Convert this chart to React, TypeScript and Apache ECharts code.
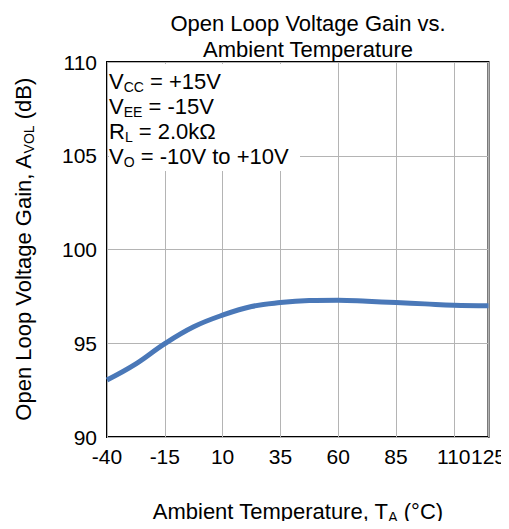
import React, { useEffect, useRef } from "react";
import * as echarts from "echarts";

const temperatures = [-40, -27.5, -15, -2.5, 10, 22.5, 35, 47.5, 60, 72.5, 85, 97.5, 110, 125];
const gainDb = [93.04, 93.9, 94.98, 95.88, 96.5, 96.96, 97.17, 97.28, 97.3, 97.24, 97.17, 97.1, 97.03, 97.0];
const xTicks = [-40, -15, 10, 35, 60, 85, 110, 125];
const yTicks = [90, 95, 100, 105, 110];
const titleLines = ["Open Loop Voltage Gain vs.", "Ambient Temperature"];
const conditions = [
  "V{sub|CC} = +15V",
  "V{sub|EE} = -15V",
  "R{sub|L} = 2.0kΩ",
  "V{sub|O} = -10V to +10V",
];

const FONT = "Liberation Sans, Arial, sans-serif";

export default function App() {
  const ref = useRef<HTMLDivElement>(null);
  useEffect(() => {
    if (!ref.current) return;
    const chart = echarts.init(ref.current, null, { renderer: "svg" });
    const subStyle = {
      fontSize: 14,
      fontFamily: FONT,
      color: "#000",
      verticalAlign: "bottom" as const,
      lineHeight: 26,
    };
    chart.setOption({
      animation: false,
      backgroundColor: "#fff",
      title: {
        text: titleLines.join("\n"),
        left: 303,
        top: 5,
        textAlign: "center",
        textStyle: {
          fontFamily: FONT,
          fontSize: 22,
          fontWeight: "normal",
          color: "#000",
          lineHeight: 26,
        },
      },
      grid: {
        left: 107,
        right: 20,
        top: 62,
        bottom: 87,
        show: true,
        borderColor: "#000",
        borderWidth: 2,
        backgroundColor: "transparent",
      },
      xAxis: {
        type: "value",
        min: -40,
        max: 125,
        interval: 25,
        name: "Ambient Temperature, T{sub|A} (°C)",
        nameLocation: "middle",
        nameGap: 61,
        nameTextStyle: {
          fontFamily: FONT,
          fontSize: 22,
          color: "#000",
          lineHeight: 26,
          rich: { sub: { ...subStyle } },
        },
        axisLine: { show: false },
        axisTick: { show: false },
        splitLine: { show: true, lineStyle: { color: "#b4b4b4", width: 1 } },
        axisLabel: {
          fontFamily: FONT,
          fontSize: 21,
          color: "#000",
          margin: 9,
          showMaxLabel: true,
          showMinLabel: true,
          hideOverlap: false,
          formatter: (v: number) => (xTicks.includes(v) ? String(v) : ""),
        },
      },
      yAxis: {
        type: "value",
        min: yTicks[0],
        max: yTicks[yTicks.length - 1],
        interval: 5,
        name: "Open Loop Voltage Gain, A{sub|VOL} (dB)",
        nameLocation: "middle",
        nameGap: 71,
        nameTextStyle: {
          fontFamily: FONT,
          fontSize: 22,
          color: "#000",
          lineHeight: 26,
          rich: { sub: { ...subStyle } },
        },
        axisLine: { show: false },
        axisTick: { show: false },
        splitLine: { show: true, lineStyle: { color: "#b4b4b4", width: 1 } },
        axisLabel: {
          fontFamily: FONT,
          fontSize: 21,
          color: "#000",
          margin: 10,
        },
      },
      series: [
        {
          type: "line",
          data: temperatures.map((t, i) => [t, gainDb[i]]),
          smooth: 0.4,
          showSymbol: false,
          lineStyle: { color: "#4a78b8", width: 5 },
          z: 3,
        },
      ],
      graphic: [
        {
          type: "rect",
          shape: { x: 109, y: 64, width: 191, height: 107 },
          style: { fill: "#fff" },
          z: 5,
        },
        {
          type: "text",
          x: 109,
          y: 69,
          z: 6,
          style: {
            text: conditions.join("\n"),
            fontFamily: FONT,
            fontSize: 22,
            fill: "#000",
            lineHeight: 25,
            rich: {
              sub: {
                fontSize: 14,
                fontFamily: FONT,
                fill: "#000",
                verticalAlign: "bottom",
                lineHeight: 25,
              },
            },
          },
        },
      ],
    });
    return () => chart.dispose();
  }, []);
  return <div ref={ref} style={{ width: 509, height: 529, margin: -8 }} />;
}
